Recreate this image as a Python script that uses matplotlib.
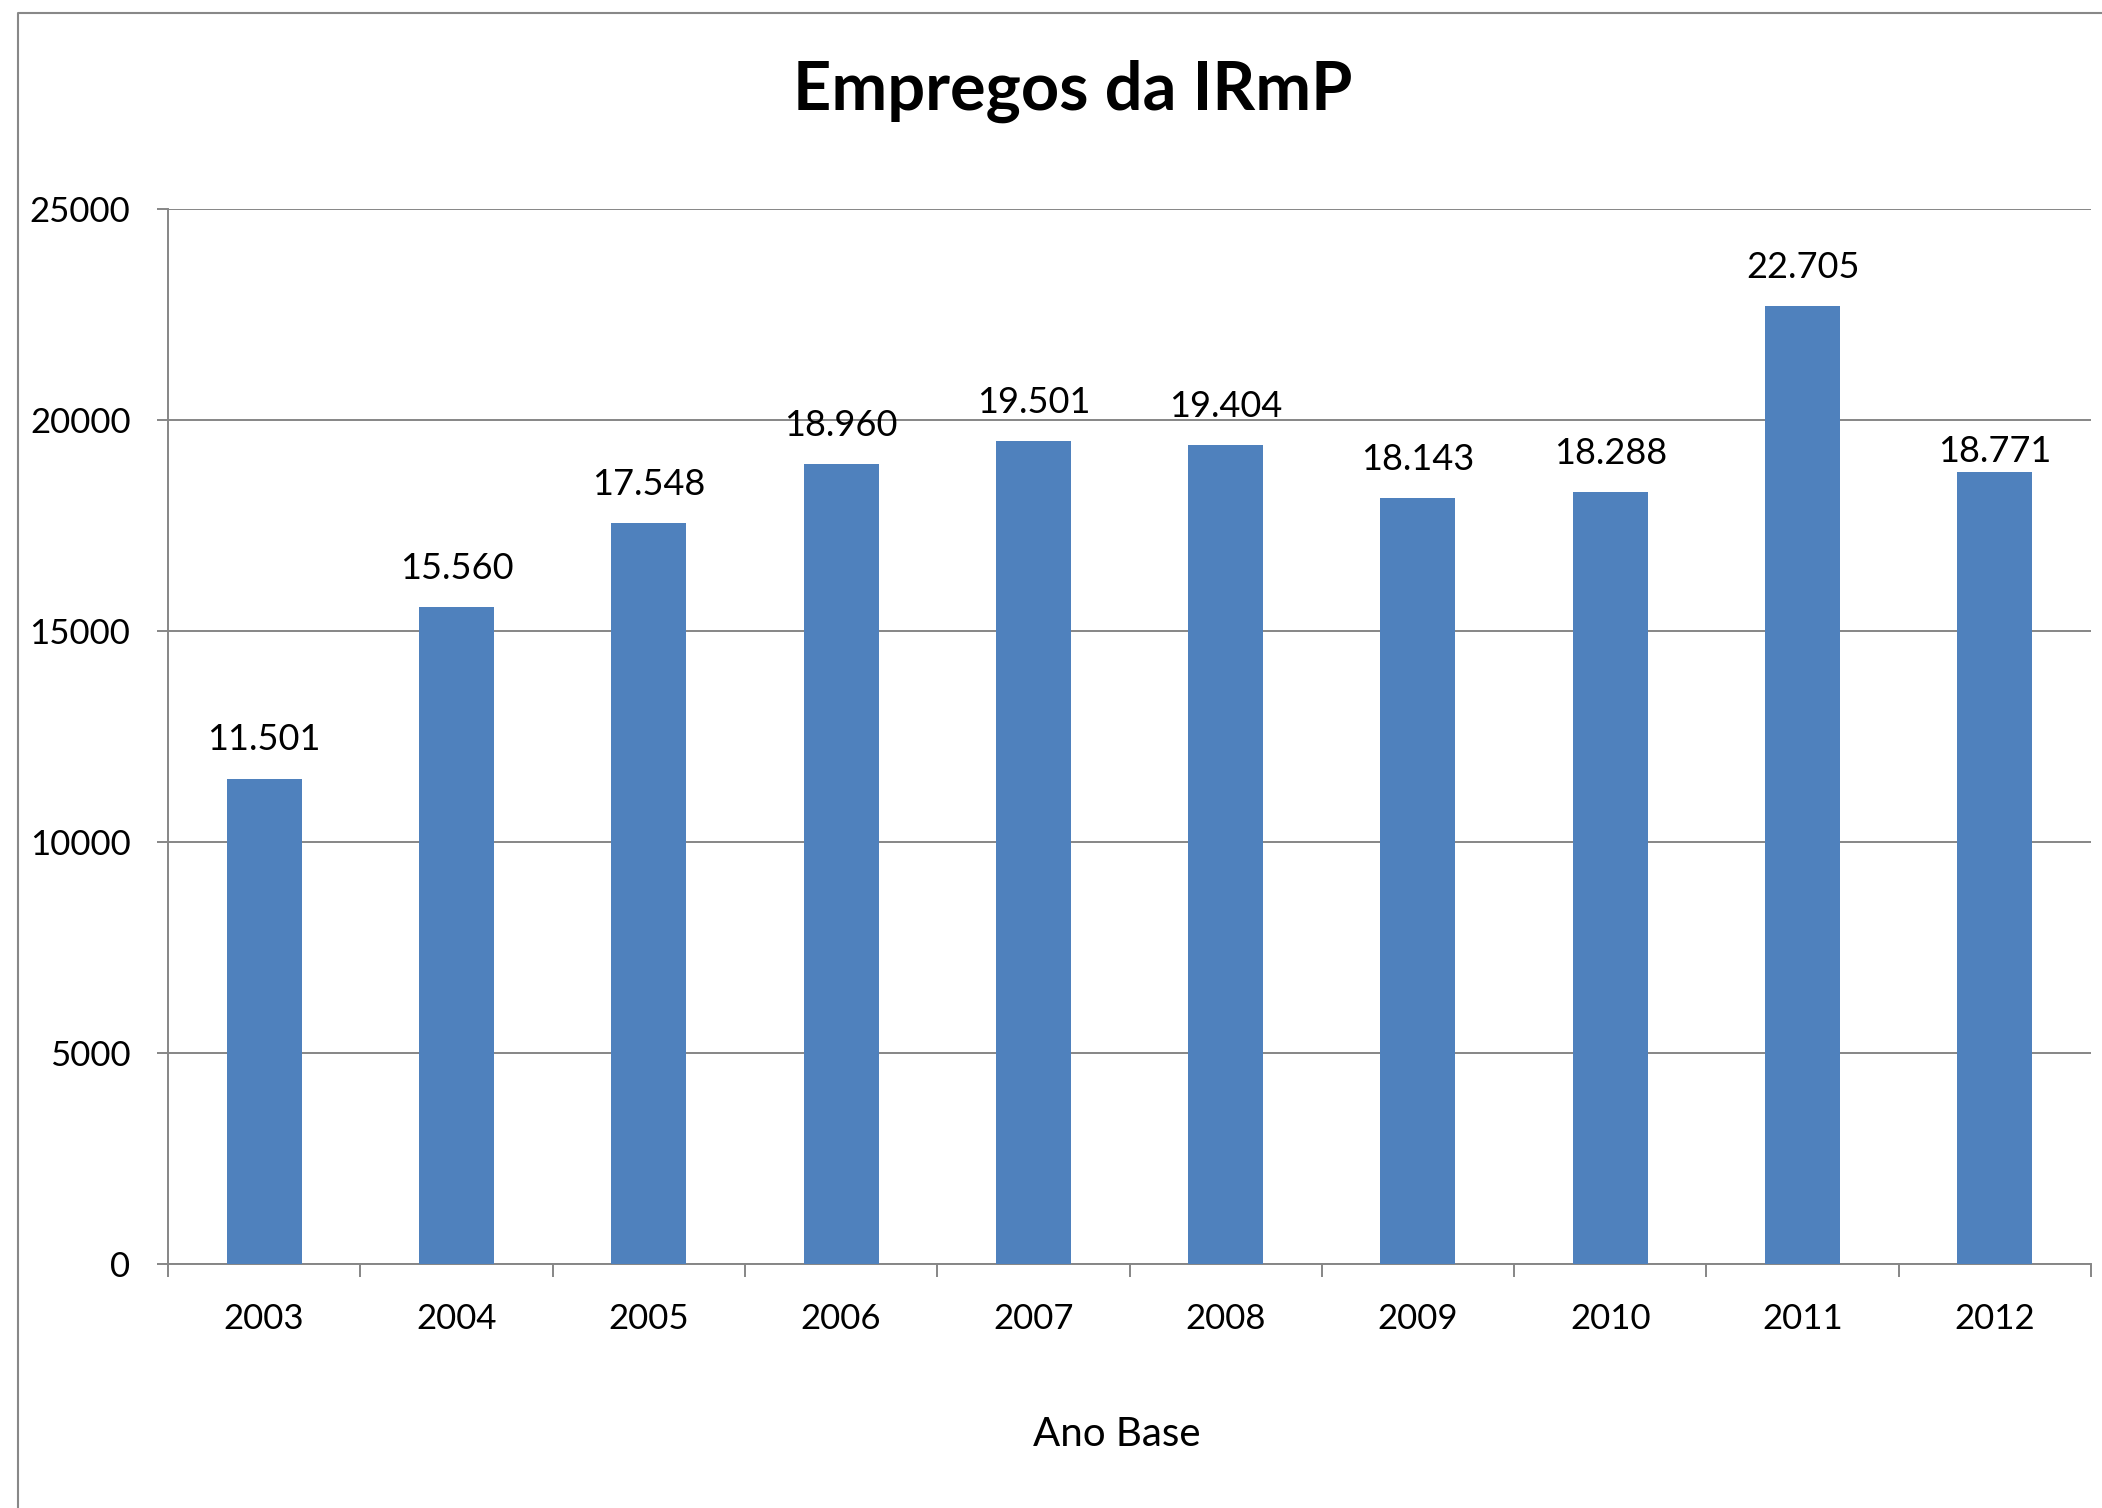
import matplotlib
matplotlib.use("Agg")
import matplotlib.pyplot as plt
from matplotlib.lines import Line2D

# data
years = ["2003", "2004", "2005", "2006", "2007", "2008", "2009", "2010", "2011", "2012"]
empregos = [11501, 15560, 17548, 18960, 19501, 19404, 18143, 18288, 22705, 18771]

plt.rcParams['font.family'] = ['Lato', 'DejaVu Sans']

W, H = 2102, 1508
fig = plt.figure(figsize=(W / 100, H / 100), dpi=100)

# outer chart border (only top and left visible)
fig.add_artist(Line2D([18 / W, 18 / W, 1.0], [0.0, 1 - 13 / H, 1 - 13 / H],
                      transform=fig.transFigure, color='#888888', lw=1.5))

ax = fig.add_axes([168 / W, 1 - 1264 / H, (2091 - 168) / W, (1264 - 209) / H])

x = range(len(years))
bars = ax.bar(x, empregos, width=0.39, color='#4F81BD', zorder=3)

ax.set_xlim(-0.5, len(years) - 0.5)
ax.set_ylim(0, 25000)
ax.set_yticks(range(0, 25001, 5000))
ax.yaxis.grid(True, color='#868686', lw=1.4, zorder=0)

ax.set_xticks(list(x))
ax.set_xticklabels(years)
ax.set_xticks([i - 0.5 for i in range(len(years) + 1)], minor=True)
ax.tick_params(axis='x', which='major', length=0, pad=28, labelsize=25)
ax.tick_params(axis='x', which='minor', length=9, width=1.4, color='#868686')
ax.tick_params(axis='y', length=8, width=1.4, color='#868686', pad=19, labelsize=25)

for side in ['top', 'right']:
    ax.spines[side].set_visible(False)
for side in ['left', 'bottom']:
    ax.spines[side].set_color('#868686')
    ax.spines[side].set_linewidth(1.4)

# value labels, thousands with dot
for i, b in enumerate(bars):
    v = b.get_height()
    off = 3 if i == len(bars) - 1 else 16
    ax.annotate(f"{v:,}".replace(",", "."), (b.get_x() + b.get_width() / 2, v),
                xytext=(0, off), textcoords='offset points',
                ha='center', va='bottom', fontsize=26)

ax.set_xlabel('Ano Base', fontsize=29, va='center')
ax.xaxis.set_label_coords(0.4935, -0.162)

fig.text(1073 / W, 1 - 91 / H, 'Empregos da IRmP', ha='center', va='center',
         fontsize=48, fontweight='bold')

fig.savefig('out.png', dpi=100)
